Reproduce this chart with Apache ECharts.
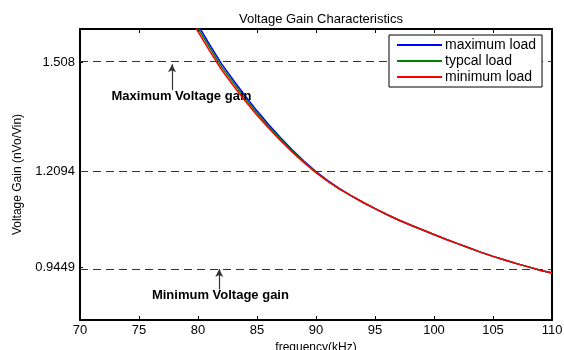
<!DOCTYPE html>
<html>
<head>
<meta charset="utf-8">
<script src="https://cdn.jsdelivr.net/npm/echarts@6/dist/echarts.min.js"></script>
<style>
  html, body { margin: 0; padding: 0; background: #fff; }
  #main { width: 564px; height: 350px; }
</style>
</head>
<body>
<div id="main"></div>
<script>
// frequency in kHz
const freq = [79, 80, 81, 82, 83, 84, 85, 86, 87, 88, 89, 90, 91, 92, 93, 94,
  95, 96, 97, 98, 99, 100, 101, 102, 103, 104, 105, 106, 107, 108, 109, 110];
const maxLoad = [1.669, 1.611, 1.556, 1.504, 1.459, 1.416, 1.375, 1.337, 1.301, 1.267, 1.236, 1.208, 1.183, 1.161, 1.141, 1.123,
  1.106, 1.090, 1.075, 1.061, 1.048, 1.035, 1.022, 1.010, 0.998, 0.986, 0.975, 0.965, 0.955, 0.946, 0.937, 0.929];
const typLoad = [1.659, 1.602, 1.548, 1.496, 1.452, 1.409, 1.369, 1.332, 1.297, 1.264, 1.234, 1.206, 1.182, 1.160, 1.141, 1.123,
  1.106, 1.090, 1.075, 1.061, 1.048, 1.035, 1.022, 1.010, 0.998, 0.986, 0.975, 0.965, 0.955, 0.946, 0.937, 0.929];
const minLoad = [1.649, 1.593, 1.539, 1.488, 1.444, 1.402, 1.363, 1.327, 1.293, 1.261, 1.232, 1.205, 1.181, 1.160, 1.141, 1.123,
  1.106, 1.090, 1.075, 1.061, 1.048, 1.035, 1.022, 1.010, 0.998, 0.986, 0.975, 0.965, 0.955, 0.946, 0.937, 0.929];

const gainLevels = [0.9449, 1.2094, 1.508]; // y ticks + dashed lines
const seriesNames = ["maximum load", "typcal load", "minimum load"];
const seriesColors = ["#0000ff", "#008000", "#ff0000"];

const font = "Arial, 'Liberation Sans', Helvetica, sans-serif";

function pairs(vals) {
  return freq.map((f, i) => [f, vals[i]]);
}

var myChart = echarts.init(document.getElementById("main"));

var lines = [maxLoad, typLoad, minLoad].map((vals, i) => ({
  name: seriesNames[i],
  type: "line",
  data: pairs(vals),
  showSymbol: false,
  symbol: "none",
  smooth: false,
  clip: true,
  color: seriesColors[i],
  lineStyle: { width: 1.5, color: seriesColors[i] },
  animation: false,
  z: 3 + i,
}));

// dashed reference lines + arrows + notes
var notes = {
  name: "notes",
  type: "line",
  data: [],
  animation: false,
  z: 2,
  markLine: {
    silent: true,
    symbol: ["none", "none"],
    label: { show: false },
    lineStyle: { color: "#333", width: 1.2, type: [8, 5] },
    data: gainLevels.map((v) => ({ yAxis: v })).concat([
      [
        { coord: [77.8, 1.432], symbol: "none", lineStyle: { type: "solid", color: "#333", width: 1.2 } },
        { coord: [77.8, 1.503], symbol: "arrow", symbolSize: [6, 8] },
      ],
      [
        { coord: [81.8, 0.884], symbol: "none", lineStyle: { type: "solid", color: "#333", width: 1.2 } },
        { coord: [81.8, 0.940], symbol: "arrow", symbolSize: [6, 8] },
      ],
    ]),
  },
  markPoint: {
    silent: true,
    symbol: "circle",
    symbolSize: 1,
    itemStyle: { color: "rgba(0,0,0,0)" },
    label: {
      show: true,
      position: "inside",
      fontFamily: font,
      fontWeight: "bold",
      fontSize: 13,
      color: "#000",
      formatter: (p) => p.name,
    },
    data: [
      { name: "Maximum Voltage gain", coord: [78.6, 1.414] },
      { name: "Minimum Voltage gain", coord: [81.9, 0.868] },
    ],
  },
};

var option = {
  backgroundColor: "#fff",
  animation: false,
  title: {
    text: "Voltage Gain Characteristics",
    left: 316,
    textAlign: "center",
    top: 8,
    textStyle: { fontFamily: font, fontSize: 13, fontWeight: "normal", color: "#000" },
  },
  grid: { left: 80, right: 12, top: 29, bottom: 30, outerBoundsMode: "none", containLabel: false },
  legend: {
    data: seriesNames,
    orient: "vertical",
    left: 389,
    top: 35,
    padding: [3, 6, 3, 8],
    itemGap: 2,
    itemWidth: 45,
    itemHeight: 2,
    icon: "rect",
    backgroundColor: "#fff",
    borderColor: "#000",
    borderWidth: 1,
    borderRadius: 0,
    textStyle: { fontFamily: font, fontSize: 14, color: "#000", padding: [0, 0, 0, -2] },
    z: 10,
  },
  xAxis: [
    {
      type: "value",
      min: 70,
      max: 110,
      interval: 5,
      name: "frequency(kHz)",
      nameLocation: "middle",
      nameGap: 21,
      nameTextStyle: { fontFamily: font, fontSize: 12, color: "#000" },
      axisLine: { show: true, lineStyle: { color: "#000", width: 2 } },
      axisTick: { show: true, inside: true, length: 4, lineStyle: { color: "#000" } },
      axisLabel: { fontFamily: font, fontSize: 13, color: "#000", margin: 4 },
      splitLine: { show: false },
    },
    {
      type: "value",
      position: "top",
      min: 70,
      max: 110,
      interval: 5,
      axisLine: { show: true, lineStyle: { color: "#000", width: 2 } },
      axisTick: { show: true, inside: true, length: 4, lineStyle: { color: "#000" } },
      axisLabel: { show: false },
      splitLine: { show: false },
    },
  ],
  yAxis: [
    {
      type: "value",
      min: 0.8,
      max: 1.6,
      name: "Voltage Gain (nVo/Vin)",
      nameLocation: "middle",
      nameGap: 56,
      nameTextStyle: { fontFamily: font, fontSize: 12, color: "#000" },
      axisLine: { show: true, lineStyle: { color: "#000", width: 2 } },
      axisTick: { show: true, inside: true, length: 3, customValues: gainLevels, lineStyle: { color: "#000" } },
      axisLabel: {
        fontFamily: font,
        fontSize: 13,
        color: "#000",
        margin: 5,
        customValues: gainLevels,
        formatter: (v) => String(v),
      },
      splitLine: { show: false },
    },
    {
      type: "value",
      position: "right",
      min: 0.8,
      max: 1.6,
      axisLine: { show: true, lineStyle: { color: "#000", width: 2 } },
      axisTick: { show: false },
      axisLabel: { show: false },
      splitLine: { show: false },
    },
  ],
  series: [notes].concat(lines),
};

option && myChart.setOption(option);
</script>
</body>
</html>
